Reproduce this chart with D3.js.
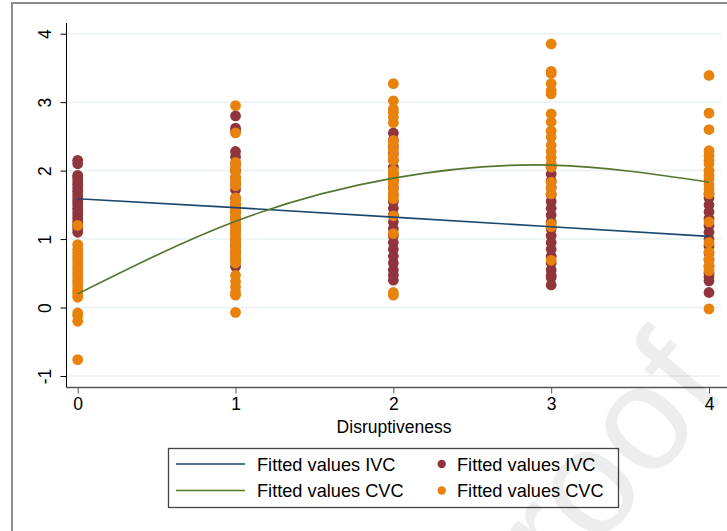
<!DOCTYPE html>
<html>
<head>
<meta charset="utf-8">
<script src="https://cdnjs.cloudflare.com/ajax/libs/d3/7.8.5/d3.min.js"></script>
<style>
  body { margin: 0; background: #fff; }
  svg { display: block; font-family: "Liberation Sans", Arial, sans-serif; }
</style>
</head>
<body>
<svg id="chart" width="727" height="531"></svg>
<script>
// categories on the x axis
const categories = [0, 1, 2, 3, 4];
const yTicks = [-1, 0, 1, 2, 3, 4];

// observed values per category (IVC = maroon, CVC = orange)
const ivcValues = [
  [2.15, 2.1, 1.93, 1.9, 1.85, 1.8, 1.75, 1.7, 1.65, 1.6, 1.55, 1.5, 1.45, 1.4, 1.35, 1.3, 1.25, 1.2, 1.15, 1.1],
  [2.8, 2.62, 2.58, 2.28, 2.2, 2.1, 2.0, 1.9, 1.8, 1.72, 1.6, 1.5, 1.4, 1.3, 1.2, 1.1, 1.0, 0.9, 0.8, 0.7, 0.6],
  [2.55, 2.45, 2.35, 2.25, 2.15, 2.05, 1.95, 1.85, 1.75, 1.65, 1.55, 1.45, 1.35, 1.25, 1.15, 1.05, 0.95, 0.85, 0.75, 0.65, 0.55, 0.47, 0.4],
  [2.05, 1.95, 1.85, 1.75, 1.65, 1.55, 1.45, 1.35, 1.25, 1.15, 1.05, 0.95, 0.85, 0.75, 0.65, 0.55, 0.47, 0.44, 0.33],
  [1.66, 1.6, 1.5, 1.4, 1.3, 1.2, 1.1, 1.0, 0.9, 0.8, 0.7, 0.6, 0.5, 0.45, 0.39, 0.22]
];
const cvcValues = [
  [1.2, 0.92, 0.85, 0.8, 0.75, 0.7, 0.65, 0.6, 0.55, 0.5, 0.45, 0.4, 0.35, 0.3, 0.25, 0.2, 0.15, -0.08, -0.12, -0.2, -0.76],
  [2.95, 2.55, 2.12, 2.05, 1.98, 1.9, 1.85, 1.78, 1.6, 1.55, 1.5, 1.45, 1.4, 1.35, 1.3, 1.25, 1.2, 1.15, 1.1, 1.05, 1.0, 0.95, 0.9, 0.85, 0.8, 0.75, 0.7, 0.65, 0.47, 0.38, 0.3, 0.22, 0.18, -0.07],
  [3.27, 3.02, 2.9, 2.85, 2.78, 2.7, 2.44, 2.38, 2.3, 2.22, 2.15, 2.0, 1.95, 1.9, 1.85, 1.8, 1.72, 1.65, 1.59, 1.34, 1.08, 0.22, 0.18],
  [3.85, 3.45, 3.42, 3.27, 3.17, 3.12, 2.83, 2.71, 2.58, 2.49, 2.37, 2.28, 2.19, 2.1, 2.05, 1.83, 1.75, 1.66, 1.22, 1.18, 0.69],
  [3.39, 2.84, 2.6, 2.29, 2.22, 2.15, 2.1, 2.0, 1.93, 1.88, 1.8, 1.73, 1.66, 1.25, 0.95, 0.81, 0.7, 0.61, 0.54, -0.02]
];

// fitted values read at each category
const fitIvc = [1.59, 1.46, 1.32, 1.18, 1.04];
const fitCvc = [0.2, 1.26, 1.89, 2.08, 1.83];

const legendLines = ["Fitted values IVC", "Fitted values CVC"];
const legendDots = ["Fitted values IVC", "Fitted values CVC"];

const navy = "#1a476f", green = "#55752f", maroon = "#90353b", orange = "#e8820c";

let svg = d3.select('#chart');

// outer graph frame (runs off the right / bottom edge)
svg.append('rect')
    .attr('x', 12).attr('y', 3)
    .attr('width', 740).attr('height', 560)
    .attr('fill', 'none')
    .attr('stroke', '#8c8c8c')
    .attr('stroke-width', 2);

let xScale = d3.scaleLinear().domain([0, 4]).range([77.7, 709]);
let yScale = d3.scaleLinear().domain([-1, 4]).range([376, 33.7]);

const plotLeft = 66.5, plotRight = 721, plotTop = 23, plotBottom = 387.5;

// gridlines
svg.append('g').selectAll('line')
    .data(yTicks)
    .enter()
    .append('line')
        .attr('x1', plotLeft + 1).attr('x2', plotRight)
        .attr('y1', d => yScale(d)).attr('y2', d => yScale(d))
        .attr('stroke', '#eaf2f3')
        .attr('stroke-width', 1.5);

// y axis, labels rotated like Stata (plain hyphen for the minus)
let yAxis = d3.axisLeft(yScale).tickValues(yTicks).tickFormat(d => String(d)).tickSize(6);
let yG = svg.append('g')
    .attr('transform', `translate(${plotLeft}, 0)`)
    .call(yAxis);
yG.select('.domain').attr('d', `M0,${plotTop}V${plotBottom}`).attr('stroke', '#000');
yG.selectAll('.tick line').attr('stroke', '#000');
yG.selectAll('.tick text')
    .attr('font-size', 17.5)
    .attr('fill', '#000')
    .attr('x', null).attr('dy', null)
    .attr('text-anchor', 'middle')
    .attr('transform', 'translate(-22,0) rotate(-90)')
    .attr('dy', '0.36em');

// x axis
let xAxis = d3.axisBottom(xScale).tickValues(categories).tickFormat(d => String(d)).tickSize(6).tickPadding(4);
let xG = svg.append('g')
    .attr('transform', `translate(0, ${plotBottom})`)
    .call(xAxis);
xG.select('.domain').attr('d', `M${plotLeft},0H727`).attr('stroke', '#555').attr('stroke-width', 1.5);
xG.selectAll('.tick line').attr('stroke', '#555');
xG.selectAll('.tick text').attr('font-size', 17.5).attr('fill', '#000');

svg.append('text')
    .attr('x', 394).attr('y', 433)
    .attr('text-anchor', 'middle')
    .attr('font-size', 17.5)
    .text('Disruptiveness');

// scatter points, IVC first then CVC on top
function drawDots(values, color) {
    let pts = [];
    values.forEach(function(col, i) {
        col.forEach(function(v) { pts.push({ x: categories[i], y: v }); });
    });
    svg.append('g').selectAll('circle')
        .data(pts)
        .enter()
        .append('circle')
            .attr('cx', d => xScale(d.x))
            .attr('cy', d => yScale(d.y))
            .attr('r', 5.4)
            .attr('fill', color);
}
drawDots(ivcValues, maroon);
drawDots(cvcValues, orange);

// fitted lines
let line = d3.line()
    .x((d, i) => xScale(categories[i]))
    .y(d => yScale(d));

svg.append('path')
    .attr('d', line(fitIvc))
    .attr('fill', 'none').attr('stroke', navy).attr('stroke-width', 1.6);
svg.append('path')
    .attr('d', line.curve(d3.curveNatural)(fitCvc))
    .attr('fill', 'none').attr('stroke', green).attr('stroke-width', 1.6);

// legend
let legend = svg.append('g');
legend.append('rect')
    .attr('x', 168.5).attr('y', 448.5)
    .attr('width', 450).attr('height', 59)
    .attr('fill', '#fff')
    .attr('stroke', '#444')
    .attr('stroke-width', 1.3);

const rowY = [464, 490.5];
legend.selectAll('.lgline')
    .data(legendLines)
    .enter()
    .append('line')
        .attr('x1', 176).attr('x2', 245)
        .attr('y1', (d, i) => rowY[i]).attr('y2', (d, i) => rowY[i])
        .attr('stroke', (d, i) => i == 0 ? navy : green)
        .attr('stroke-width', 1.6);
legend.selectAll('.lgtext1')
    .data(legendLines)
    .enter()
    .append('text')
        .attr('x', 257).attr('y', (d, i) => rowY[i])
        .attr('dy', '0.36em')
        .attr('font-size', 18.2)
        .text(d => d);
legend.selectAll('.lgdot')
    .data(legendDots)
    .enter()
    .append('circle')
        .attr('cx', 441.7).attr('cy', (d, i) => rowY[i])
        .attr('r', 4.2)
        .attr('fill', (d, i) => i == 0 ? maroon : orange);
legend.selectAll('.lgtext2')
    .data(legendDots)
    .enter()
    .append('text')
        .attr('x', 457).attr('y', (d, i) => rowY[i])
        .attr('dy', '0.36em')
        .attr('font-size', 18.2)
        .text(d => d);

// faint watermark
svg.append('text')
    .attr('transform', 'translate(500, 665) rotate(-50)')
    .attr('font-size', 150)
    .attr('fill', '#000')
    .attr('fill-opacity', 0.07)
    .text('Proof');
</script>
</body>
</html>
